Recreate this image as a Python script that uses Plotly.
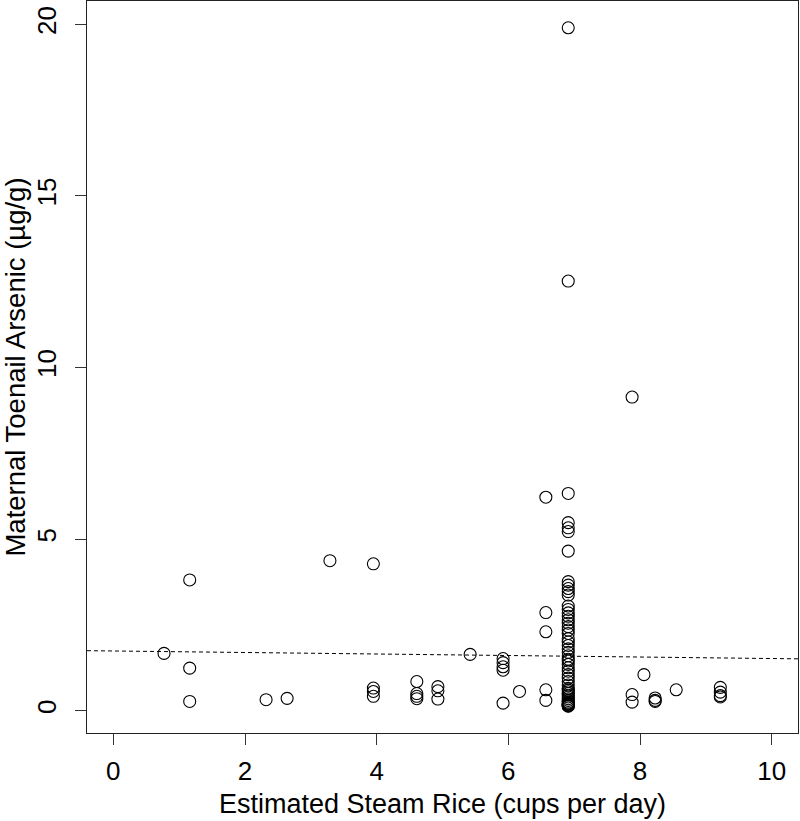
import plotly.graph_objects as go

# Rice intake (cups/day) and maternal toenail arsenic (µg/g)
rice_x = (
    [0.77]
    + [1.16] * 3
    + [2.32, 2.64, 3.29]
    + [3.95] * 4
    + [4.61] * 4
    + [4.93] * 3
    + [5.42]
    + [5.92] * 5
    + [6.17]
    + [6.57] * 5
    + [6.91] * 52
    + [7.88] * 3
    + [8.06]
    + [8.23] * 3
    + [8.55]
    + [9.22] * 4
)
arsenic_y = (
    [1.67]
    + [3.81, 1.24, 0.27]
    + [0.32, 0.36, 4.37]
    + [4.28, 0.66, 0.56, 0.42]
    + [0.85, 0.50, 0.42, 0.35]
    + [0.70, 0.58, 0.34]
    + [1.64]
    + [1.52, 1.40, 1.28, 1.18, 0.22]
    + [0.56]
    + [6.22, 2.86, 2.30, 0.61, 0.30]
    + [19.9, 12.52, 6.33, 5.48, 5.33, 5.22, 4.65,
       3.76, 3.66, 3.56, 3.47, 3.37,
       3.05, 2.95, 2.85, 2.75, 2.65, 2.55, 2.45, 2.35, 2.25, 2.10, 2.00, 1.90, 1.80,
       1.70, 1.60, 1.50, 1.45, 1.35, 1.25, 1.15, 1.05, 0.95, 0.85, 0.75, 0.65,
       0.60, 0.55, 0.50, 0.45, 0.40, 0.35, 0.30, 0.25, 0.22, 0.20, 0.18, 0.16, 0.15, 0.14, 0.13]
    + [9.14, 0.47, 0.25]
    + [1.05]
    + [0.37, 0.30, 0.27]
    + [0.61]
    + [0.68, 0.54, 0.44, 0.40]
)

# fitted regression line (intercept, slope)
fit_intercept = 1.74
fit_slope = -0.022

x_ticks = [0, 2, 4, 6, 8, 10]
y_ticks = [0, 5, 10, 15, 20]
x_range = [-0.4, 10.4]
y_range = [-0.65, 20.68]

FONT = "Liberation Sans, Arial, sans-serif"

fig = go.Figure()
fig.add_trace(go.Scatter(
    x=x_range,
    y=[fit_intercept + fit_slope * v for v in x_range],
    mode="lines",
    line=dict(color="black", width=1, dash="4px,3px"),
    hoverinfo="skip",
    showlegend=False,
))
fig.add_trace(go.Scatter(
    x=rice_x, y=arsenic_y,
    mode="markers",
    marker=dict(symbol="circle-open", size=12, color="black", line=dict(width=1.1, color="black")),
    showlegend=False,
))

fig.update_layout(
    width=800, height=821,
    margin=dict(l=87, r=2, t=1, b=88),
    paper_bgcolor="white", plot_bgcolor="white",
    font=dict(family=FONT, size=26, color="black"),
)
fig.update_xaxes(
    range=x_range, tickvals=x_ticks, ticktext=[str(v) for v in x_ticks],
    automargin=False,
    showgrid=False, zeroline=False,
    showline=True, mirror=True, linecolor="#222", linewidth=1.3,
    ticks="outside", ticklen=11, tickwidth=1.3, tickcolor="#333",
    ticklabelstandoff=4,
    tickfont=dict(size=26),
    title=dict(text="Estimated Steam Rice (cups per day)", font=dict(size=27), standoff=8),
)
fig.update_yaxes(
    range=y_range, tickvals=y_ticks, ticktext=[str(v) for v in y_ticks],
    automargin=False,
    showgrid=False, zeroline=False,
    showline=True, mirror=True, linecolor="#222", linewidth=1.3,
    ticks="outside", ticklen=11, tickwidth=1.3, tickcolor="#333",
    ticklabelstandoff=8,
    tickangle=-90, tickfont=dict(size=26),
    title=dict(text="Maternal Toenail Arsenic (µg/g)", font=dict(size=27.5), standoff=8),
)

fig.write_html(
    "out.html",
    config={"displayModeBar": False},
    post_script="document.body.style.margin='0';document.body.style.overflow='hidden';",
)
